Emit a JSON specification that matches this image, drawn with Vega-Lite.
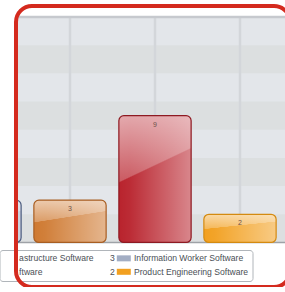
{
  "$schema": "https://vega.github.io/schema/vega-lite/v6.json",
  "width": 274,
  "height": 281,
  "autosize": "none",
  "padding": {"left": 16, "top": 6, "right": 0, "bottom": 0},
  "background": "white",
  "config": {
    "view": {"stroke": "#d42a1e", "strokeWidth": 4, "cornerRadius": 16, "fill": "white"},
    "style": {"cell": {"strokeForeground": true}},
    "legend": {"labelFont": "Liberation Sans", "labelFontSize": 8.6, "labelColor": "#4a4f55"}
  },
  "data": {
    "values": [
      {"category": "Information Worker Software", "value": 3},
      {"category": "Infrastructure Software", "value": 3},
      {"category": "Software", "value": 9},
      {"category": "Product Engineering Software", "value": 2}
    ]
  },
  "datasets": {
    "bands": [
      {"lo": 0, "hi": 2},
      {"lo": 4, "hi": 6},
      {"lo": 8, "hi": 10},
      {"lo": 12, "hi": 14}
    ]
  },
  "layer": [
    {
      "data": {"values": [{}]},
      "mark": {"type": "rect", "color": "#e3e6ea"},
      "encoding": {
        "y": {"datum": 0, "type": "quantitative", "axis": null, "scale": {"domain": [-3.16, 16.78], "nice": false, "zero": false}},
        "y2": {"datum": 16}
      }
    },
    {
      "data": {"name": "bands"},
      "mark": {"type": "rect", "color": "#dcdfe0"},
      "encoding": {
        "y": {"field": "lo", "type": "quantitative", "axis": null},
        "y2": {"field": "hi"}
      }
    },
    {
      "mark": {"type": "rule", "clip": true, "color": "#d3d6da", "strokeWidth": 2.5},
      "encoding": {
        "x": {"field": "category", "type": "nominal", "axis": null,
              "scale": {"type": "band", "domain": ["Information Worker Software", "Infrastructure Software", "Software", "Product Engineering Software"], "range": [-73.5, 266.5], "paddingInner": 0.15, "paddingOuter": 0.075}},
        "y": {"datum": 0, "type": "quantitative"},
        "y2": {"datum": 16}
      }
    },
    {
      "data": {"values": [{}]},
      "mark": {"type": "rule", "color": "#c6c9ce", "strokeWidth": 2.5},
      "encoding": {"y": {"datum": 16, "type": "quantitative"}}
    },
    {
      "data": {"values": [{}]},
      "mark": {"type": "rule", "color": "#9ea2a7", "strokeWidth": 1.5},
      "encoding": {"y": {"datum": 0, "type": "quantitative"}}
    },
    {
      "mark": {"type": "bar", "cornerRadius": 5, "clip": true, "strokeWidth": 0},
      "encoding": {
        "x": {"field": "category", "type": "nominal", "axis": null},
        "y": {"field": "value", "type": "quantitative"},
        "y2": {"datum": 0},
        "color": {
          "field": "category", "type": "nominal",
          "scale": {"domain": ["Infrastructure Software", "Software", "Information Worker Software", "Product Engineering Software"],
                    "range": ["#cf7a32", "#b9232d", "#a3aec4", "#f2a020"]},
          "legend": {
            "orient": "none", "legendX": -16.5, "legendY": 244,
            "columns": 2, "title": null,
            "symbolType": "M9,-1.5H16V1.5H9Z", "symbolSize": 16, "symbolStrokeWidth": 0,
            "labelOffset": 7, "columnPadding": -13.5, "rowPadding": 4.5, "padding": 4,
            "strokeColor": "#b0b5ba", "cornerRadius": 3,
            "labelExpr": "datum.label == 'Infrastructure Software' ? 'astructure Software' : datum.label == 'Software' ? 'ftware' : datum.label == 'Information Worker Software' ? '3\u00a0\u00a0\u00a0\u00a0\u00a0\u00a0\u00a0\u00a0Information Worker Software' : '2\u00a0\u00a0\u00a0\u00a0\u00a0\u00a0\u00a0\u00a0Product Engineering Software'",
            "encode": {"symbols": {"update": {"opacity": {"signal": "datum.value == 'Information Worker Software' || datum.value == 'Product Engineering Software' ? 1 : 0"}}}}
          }
        }
      }
    },
    {
      "mark": {"type": "bar", "cornerRadius": 5, "clip": true, "strokeWidth": 0,
               "fill": {"gradient": "linear", "x1": 0, "y1": 0, "x2": 1, "y2": 0,
                        "stops": [{"offset": 0, "color": "rgba(255,255,255,0)"}, {"offset": 0.15, "color": "rgba(255,255,255,0.04)"}, {"offset": 1, "color": "rgba(255,255,255,0.45)"}]}},
      "encoding": {
        "x": {"field": "category", "type": "nominal", "axis": null},
        "y": {"field": "value", "type": "quantitative"},
        "y2": {"datum": 0}
      }
    },
    {
      "mark": {"type": "bar", "cornerRadius": 5, "clip": true, "strokeWidth": 0,
               "fill": {"gradient": "linear", "x1": 0, "y1": 0, "x2": 0.27, "y2": 1,
                        "stops": [{"offset": 0, "color": "rgba(255,255,255,0.62)"}, {"offset": 0.485, "color": "rgba(255,255,255,0.25)"}, {"offset": 0.495, "color": "rgba(255,255,255,0)"}, {"offset": 1, "color": "rgba(255,255,255,0)"}]}},
      "encoding": {
        "x": {"field": "category", "type": "nominal", "axis": null},
        "y": {"field": "value", "type": "quantitative"},
        "y2": {"datum": 0}
      }
    },
    {
      "mark": {"type": "bar", "cornerRadius": 5, "clip": true, "strokeWidth": 1.2, "fill": "transparent"},
      "encoding": {
        "x": {"field": "category", "type": "nominal", "axis": null},
        "y": {"field": "value", "type": "quantitative"},
        "y2": {"datum": 0},
        "stroke": {
          "field": "category", "type": "nominal", "legend": null,
          "scale": {"domain": ["Infrastructure Software", "Software", "Information Worker Software", "Product Engineering Software"],
                    "range": ["#a85e22", "#8e1a22", "#4a5a7e", "#d48a10"]}
        }
      }
    },
    {
      "mark": {"type": "text", "baseline": "top", "dy": 5, "fontSize": 7, "font": "Liberation Sans", "color": "#6d5048", "clip": true},
      "encoding": {
        "x": {"field": "category", "type": "nominal", "axis": null},
        "y": {"field": "value", "type": "quantitative"},
        "text": {"field": "value", "type": "quantitative"}
      }
    }
  ]
}
